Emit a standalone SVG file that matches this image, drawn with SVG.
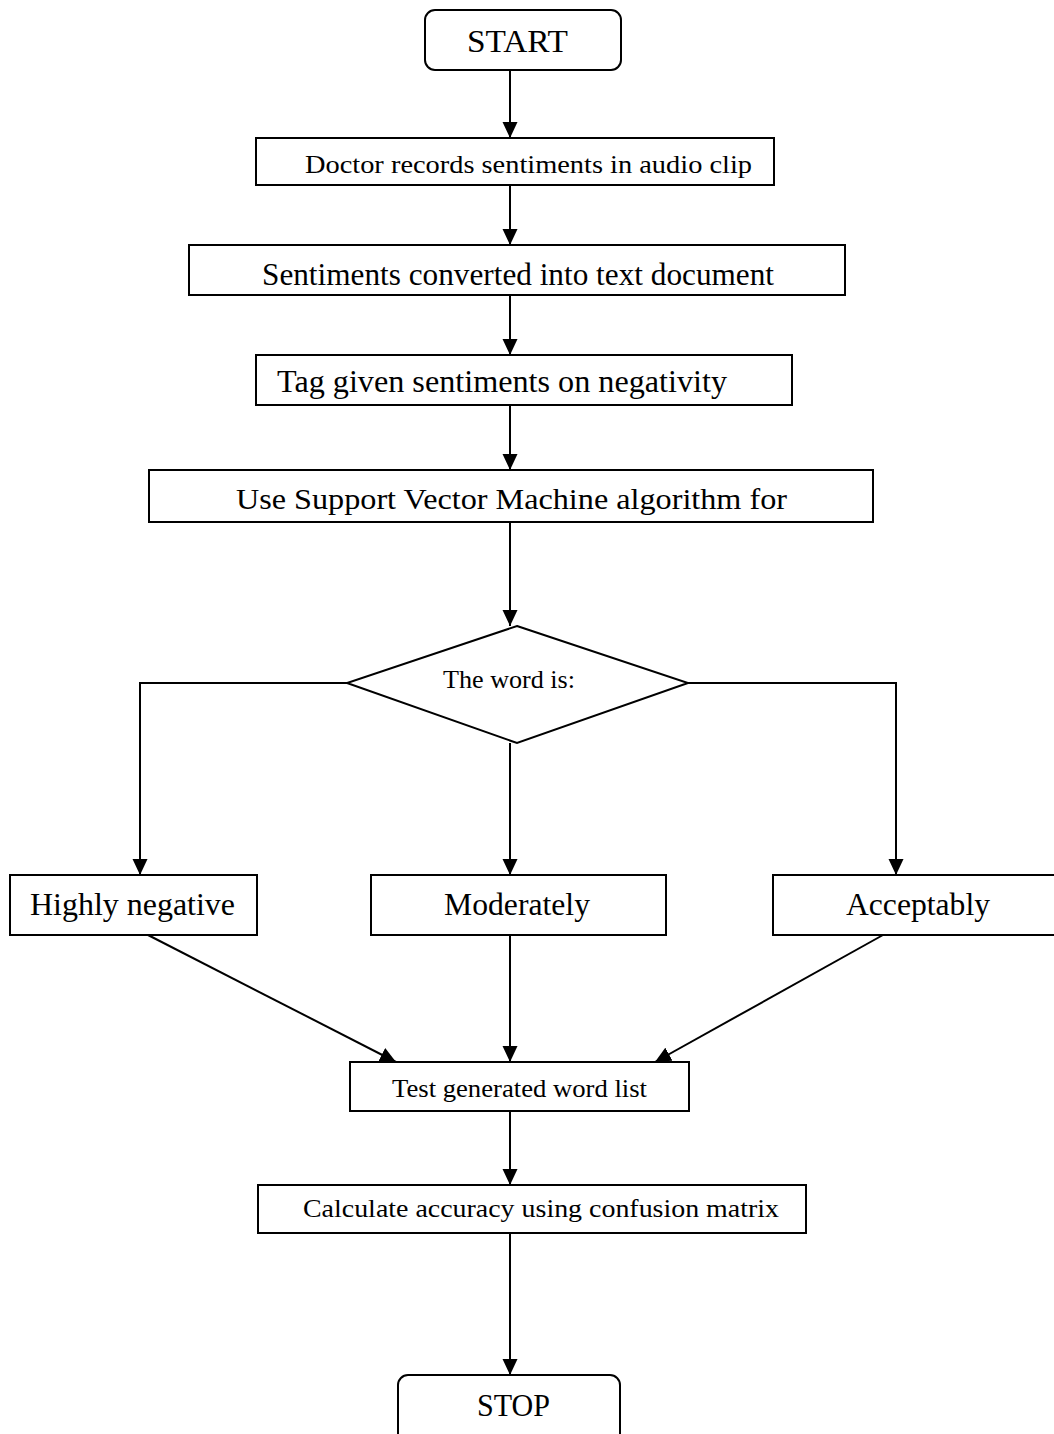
<svg xmlns="http://www.w3.org/2000/svg" width="1054" height="1434" viewBox="0 0 1054 1434">
<style>
.box{fill:#fff;stroke:#000;stroke-width:2}
.ln{fill:none;stroke:#000;stroke-width:2}
text{font-family:"Liberation Serif","Times New Roman",serif;fill:#000;text-anchor:start}
</style>
<defs>
<marker id="ah" markerWidth="16" markerHeight="16" refX="16" refY="7.5" orient="auto" markerUnits="userSpaceOnUse" viewBox="0 0 16 15">
<path d="M0,0 L16,7.5 L0,15 Z" fill="#000"/>
</marker>
</defs>
<g id="connectors">
<line class="ln" x1="510" y1="70" x2="510" y2="138" marker-end="url(#ah)"/>
<line class="ln" x1="510" y1="185" x2="510" y2="245" marker-end="url(#ah)"/>
<line class="ln" x1="510" y1="295" x2="510" y2="355" marker-end="url(#ah)"/>
<line class="ln" x1="510" y1="405" x2="510" y2="470" marker-end="url(#ah)"/>
<line class="ln" x1="510" y1="522" x2="510" y2="626" marker-end="url(#ah)"/>
<polyline class="ln" points="347,683 140,683 140,875" marker-end="url(#ah)"/>
<polyline class="ln" points="688,683 896,683 896,875" marker-end="url(#ah)"/>
<line class="ln" x1="510" y1="743" x2="510" y2="875" marker-end="url(#ah)"/>
<line class="ln" x1="148" y1="935" x2="396" y2="1062" marker-end="url(#ah)"/>
<line class="ln" x1="510" y1="935" x2="510" y2="1062" marker-end="url(#ah)"/>
<line class="ln" x1="883" y1="935" x2="655" y2="1062" marker-end="url(#ah)"/>
<line class="ln" x1="510" y1="1111" x2="510" y2="1185" marker-end="url(#ah)"/>
<line class="ln" x1="510" y1="1233" x2="510" y2="1375" marker-end="url(#ah)"/>
</g>
<g id="start"><rect class="box" x="425" y="10" width="196" height="60" rx="10"/><text x="467" y="52" font-size="32" textLength="101" lengthAdjust="spacingAndGlyphs">START</text></g>
<g id="record"><rect class="box" x="256" y="138" width="518" height="47"/><text x="305" y="173" font-size="26" textLength="447" lengthAdjust="spacingAndGlyphs">Doctor records sentiments in audio clip</text></g>
<g id="convert"><rect class="box" x="189" y="245" width="656" height="50"/><text x="262" y="285" font-size="31" textLength="512" lengthAdjust="spacingAndGlyphs">Sentiments converted into text document</text></g>
<g id="tag"><rect class="box" x="256" y="355" width="536" height="50"/><text x="277" y="392" font-size="31" textLength="450" lengthAdjust="spacingAndGlyphs">Tag given sentiments on negativity</text></g>
<g id="svm"><rect class="box" x="149" y="470" width="724" height="52"/><text x="236" y="509" font-size="29" textLength="551" lengthAdjust="spacingAndGlyphs">Use Support Vector Machine algorithm for</text></g>
<g id="decision"><polygon class="box" points="517,626 688,683 517,743 347,683"/><text x="443" y="688" font-size="25" textLength="132" lengthAdjust="spacingAndGlyphs">The word is:</text></g>
<g id="highly"><rect class="box" x="10" y="875" width="247" height="60"/><text x="30" y="915" font-size="31" textLength="205" lengthAdjust="spacingAndGlyphs">Highly negative</text></g>
<g id="moderately"><rect class="box" x="371" y="875" width="295" height="60"/><text x="444" y="915" font-size="31" textLength="146" lengthAdjust="spacingAndGlyphs">Moderately</text></g>
<g id="acceptably"><rect class="box" x="773" y="875" width="290" height="60"/><text x="846" y="915" font-size="31" textLength="144" lengthAdjust="spacingAndGlyphs">Acceptably</text></g>
<g id="test"><rect class="box" x="350" y="1062" width="339" height="49"/><text x="392" y="1097" font-size="26" textLength="255" lengthAdjust="spacingAndGlyphs">Test generated word list</text></g>
<g id="accuracy"><rect class="box" x="258" y="1185" width="548" height="48"/><text x="303" y="1217" font-size="25" textLength="476" lengthAdjust="spacingAndGlyphs">Calculate accuracy using confusion matrix</text></g>
<g id="stop"><rect class="box" x="398" y="1375" width="222" height="70" rx="10"/><text x="477" y="1416" font-size="31" textLength="73" lengthAdjust="spacingAndGlyphs">STOP</text></g>
</svg>
